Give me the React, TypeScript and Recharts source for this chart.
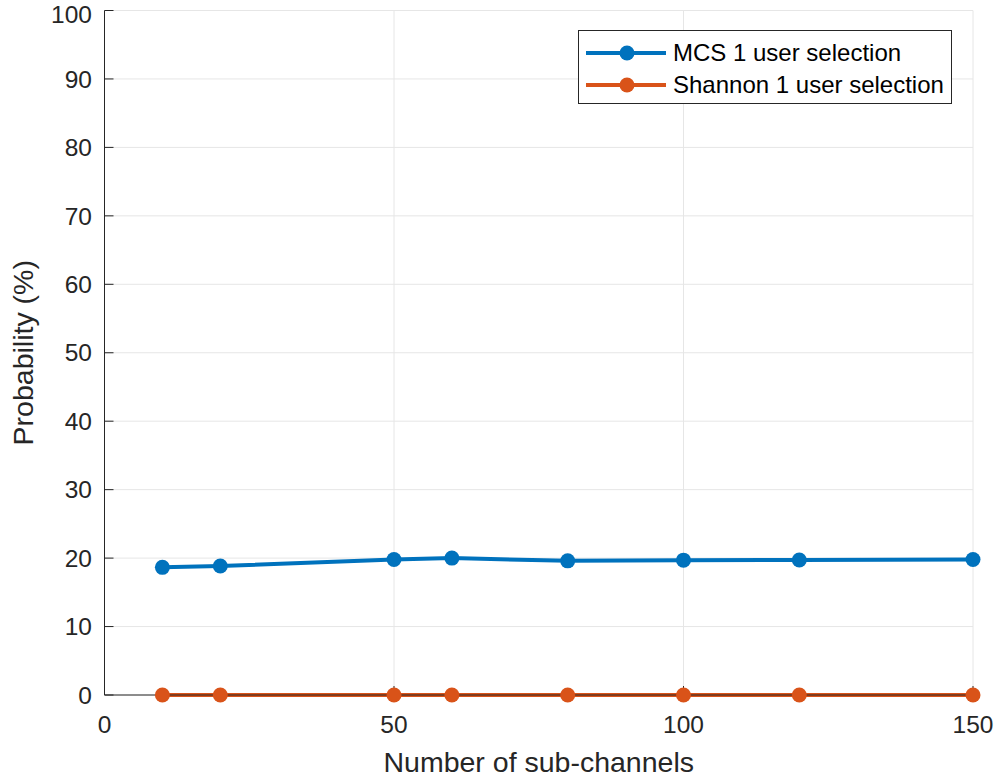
import React from 'react';
import { LineChart, Line, XAxis, YAxis, CartesianGrid } from 'recharts';

// Number of sub-channels on the x axis
const subChannels = [10, 20, 50, 60, 80, 100, 120, 150];
// Probability (%) of picking a single user
const mcsValues = [18.65, 18.85, 19.8, 20.0, 19.6, 19.7, 19.72, 19.8];
const shannonValues = [0, 0, 0, 0, 0, 0, 0, 0];
const xTicks = [0, 50, 100, 150];
const yTicks = [0, 10, 20, 30, 40, 50, 60, 70, 80, 90, 100];

const MCS_COLOR = '#0072BD';
const SHANNON_COLOR = '#D95319';
const AXIS_COLOR = '#262626';
const FONT = '"Liberation Sans", Arial, Helvetica, sans-serif';

const series = [
    { key: 'mcs', name: 'MCS 1 user selection', color: MCS_COLOR },
    { key: 'shannon', name: 'Shannon 1 user selection', color: SHANNON_COLOR },
];

const chartData = subChannels.map((n, i) => ({
    n,
    mcs: mcsValues[i],
    shannon: shannonValues[i],
}));

// Boxed legend in the upper right corner of the axes
const LegendBox: React.FC = () => (
    <div
        style={{
            position: 'absolute',
            left: 578,
            top: 30,
            width: 372,
            height: 72,
            border: '1px solid #262626',
            background: '#fff',
            fontFamily: FONT,
            fontSize: 24,
            color: '#000',
        }}
    >
        {series.map((s, i) => (
            <div key={s.key} style={{ position: 'absolute', left: 0, top: 6 + i * 32.3, height: 32, width: '100%' }}>
                <svg width={90} height={32} style={{ position: 'absolute', left: 7, top: 0 }}>
                    <line x1={0} y1={16} x2={80} y2={16} stroke={s.color} strokeWidth={4} />
                    <circle cx={41} cy={16} r={7.5} fill={s.color} />
                </svg>
                <span style={{ position: 'absolute', left: 94, top: 0, lineHeight: '32px', whiteSpace: 'nowrap' }}>
                    {s.name}
                </span>
            </div>
        ))}
    </div>
);

const App: React.FC = () => {
    const tickStyle = { fill: AXIS_COLOR, fontSize: 24.5, fontFamily: FONT };
    const labelStyle = { fill: AXIS_COLOR, fontSize: 28.5, fontFamily: FONT, textAnchor: 'middle' as const };
    return (
        <div style={{ position: 'absolute', left: 0, top: 0, width: 997, height: 780, background: '#fff' }}>
            <LineChart
                width={997}
                height={780}
                data={chartData}
                margin={{ top: 10.5, right: 24, bottom: 0, left: 0 }}
            >
                <CartesianGrid stroke="#e6e6e6" strokeWidth={1} />
                <XAxis
                    dataKey="n"
                    type="number"
                    domain={[0, 150]}
                    ticks={xTicks}
                    height={85}
                    stroke={AXIS_COLOR}
                    tickSize={-9}
                    tickMargin={30}
                    tick={tickStyle}
                    label={{
                        value: 'Number of sub-channels',
                        position: 'insideBottom',
                        offset: 8,
                        style: labelStyle,
                    }}
                />
                <XAxis
                    xAxisId="top"
                    dataKey="n"
                    type="number"
                    orientation="top"
                    domain={[0, 150]}
                    ticks={xTicks}
                    height={0}
                    stroke={AXIS_COLOR}
                    tickSize={-9}
                    tick={false}
                />
                <YAxis
                    domain={[0, 100]}
                    ticks={yTicks}
                    width={104.5}
                    stroke={AXIS_COLOR}
                    tickSize={-9}
                    tickMargin={21.5}
                    tick={tickStyle}
                    label={{
                        value: 'Probability (%)',
                        angle: -90,
                        position: 'insideLeft',
                        offset: 23,
                        style: labelStyle,
                    }}
                />
                <YAxis
                    yAxisId="right"
                    orientation="right"
                    domain={[0, 100]}
                    ticks={yTicks}
                    width={0}
                    stroke={AXIS_COLOR}
                    tickSize={-9}
                    tick={false}
                />
                {series.map(s => (
                    <Line
                        key={s.key}
                        dataKey={s.key}
                        name={s.name}
                        type="linear"
                        stroke={s.color}
                        strokeWidth={4}
                        dot={{ r: 7.5, fill: s.color, stroke: s.color, strokeWidth: 0 }}
                        activeDot={false}
                        isAnimationActive={false}
                    />
                ))}
            </LineChart>
            <LegendBox />
        </div>
    );
};

export default App;
